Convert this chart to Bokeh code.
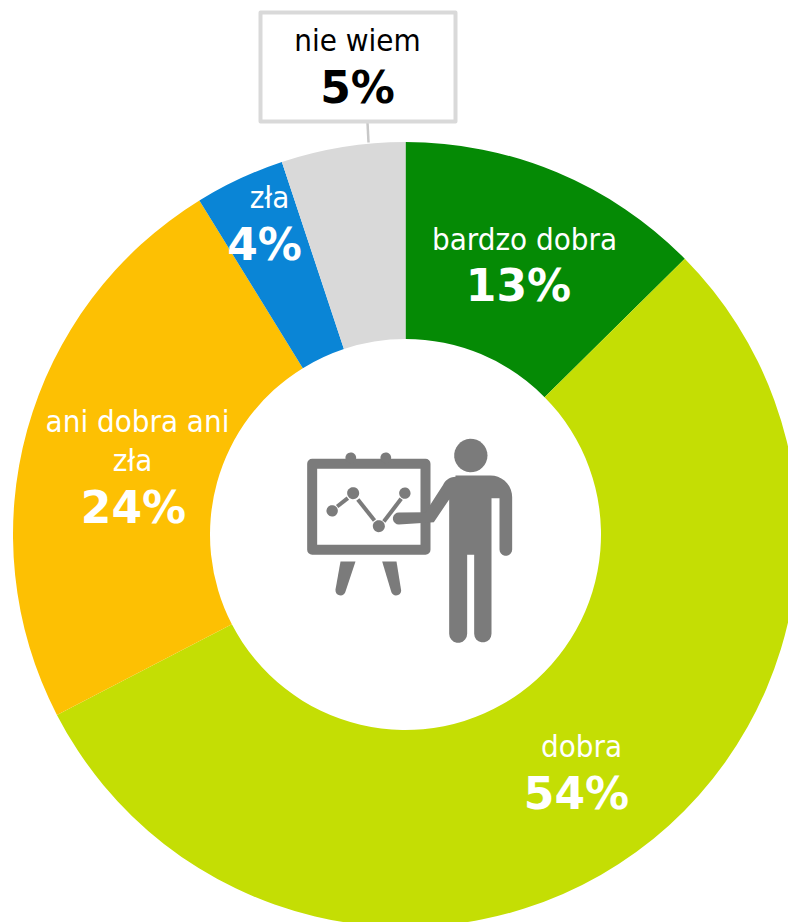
import numpy as np
from bokeh.plotting import figure
from bokeh.core.properties import value
from bokeh.embed import file_html
from bokeh.resources import INLINE

# ---- data ----
categories = ["bardzo dobra", "dobra", "ani dobra ani\nzła", "zła", "nie wiem"]
shares = [12.6, 54.8, 23.8, 3.7, 5.1]
percent_labels = ["13%", "54%", "24%", "4%", "5%"]
colors = ["#058A05", "#C4DE04", "#FDC003", "#0A85D6", "#D9D9D9"]

W, H = 788, 922
ICON = "#7B7B7B"
REG = "DejaVu Sans Condensed"
BOLD = "DejaVu Sans"


def Y(py):
    return 922 - np.asarray(py, dtype=float)


p = figure(width=W, height=H, x_range=(0, 788), y_range=(0, 922),
           output_backend="svg", toolbar_location=None,
           min_border=0, outline_line_color=None, background_fill_color="white")
p.axis.visible = False
p.grid.visible = False

# donut
cx, cy, r_out, r_in = 405, 534, 392.5, 195.5
edges = np.cumsum([0] + shares) / 100 * 2 * np.pi
starts = np.pi / 2 - edges[:-1]
ends = np.pi / 2 - edges[1:]
p.annular_wedge(x=[cx] * 5, y=[float(Y(cy))] * 5, inner_radius=r_in, outer_radius=r_out,
                start_angle=list(starts), end_angle=list(ends), direction="clock",
                fill_color=colors, line_color=None)

# callout for "nie wiem"
p.line(x=[367, 368], y=Y([122, 142]), line_color="#C8C8C8", line_width=2.5)
p.quad(left=[260], right=[455], top=[float(Y(12))], bottom=[float(Y(121))],
       fill_color="white", line_color="#D9D9D9", line_width=4, line_join="round")


def label(lines, xs, ys, pct, px, py, col):
    p.text(x=xs, y=Y(ys), text=lines, text_color=col, text_align="center",
           text_baseline="alphabetic", text_font=value(REG), text_font_size="31px")
    p.text(x=[px], y=[float(Y(py))], text=[pct], text_color=col, text_align="center",
           text_baseline="alphabetic", text_font=value(BOLD), text_font_style="bold",
           text_font_size="44px")


label([categories[0]], [524], [238], percent_labels[0], 518, 285, "white")
label([categories[1]], [581], [745], percent_labels[1], 576, 793, "white")
label(categories[2].split("\n"), [137, 132], [420, 459], percent_labels[2], 133, 507, "white")
label([categories[3]], [269], [196], percent_labels[3], 264, 244, "white")
label([categories[4]], [357], [39], percent_labels[4], 357, 87, "black")


# ---- presenter icon (zoom-crop coordinates -> page pixels) ----
def zx(v):
    return 290 + np.asarray(v, dtype=float) / 3


def zy(v):
    return Y(425 + np.asarray(v, dtype=float) / 3)


def arc(x0, y0, r, a0, a1, n=10):
    t = np.radians(np.linspace(a0, a1, n))
    return list(zip(x0 + r * np.cos(t), y0 + r * np.sin(t)))


def poly(pts):
    pts = np.array(pts)
    p.patch(zx(pts[:, 0]), zy(pts[:, 1]), fill_color=ICON, line_color=None)


def dot(x0, y0, r):
    poly(arc(x0, y0, r, 0, 360, 32))


# board frame
p.line(zx([65, 405, 405, 65, 65, 405]), zy([115, 115, 373, 373, 115, 115]),
       line_color=ICON, line_width=10, line_join="round")
dot(181, 97, 16)
dot(286, 97, 16)
# legs
poly([(150, 408), (195, 408), (165, 498)] + arc(150, 495, 15, 20, 170) + [(135, 492)])
poly([(275, 408), (318, 408), (332, 495)] + arc(317, 495, 15, 10, 160) + [(302, 498)])
# chart on board
for x0, y0, r in [(125, 256, 17), (188, 203, 18), (265, 302, 18), (343, 203, 17)]:
    dot(x0, y0, r)
for xs, ys in [([140, 172], [243, 218]), ([202, 252], [222, 285]), ([280, 332], [288, 220])]:
    p.line(zx(xs), zy(ys), line_color=ICON, line_width=4)
# person
dot(541, 90, 50)
body = ([(495, 150), (600, 150)] + arc(600, 215, 65, -90, 0) +
        [(665, 372)] + arc(646, 372, 19, 0, 180) +
        [(627, 218), (603, 218), (603, 625)] + arc(577, 625, 26, 0, 180) +
        [(551, 388), (530, 388), (530, 625)] + arc(503, 625, 27, 0, 180) +
        [(476, 222), (430, 290), (325, 297)] + arc(325, 279, 18, 90, 270) +
        [(405, 260), (458, 178)] + arc(495, 195, 41, 205, 270))
poly(body)

open("out.html", "w").write(file_html(p, INLINE))
